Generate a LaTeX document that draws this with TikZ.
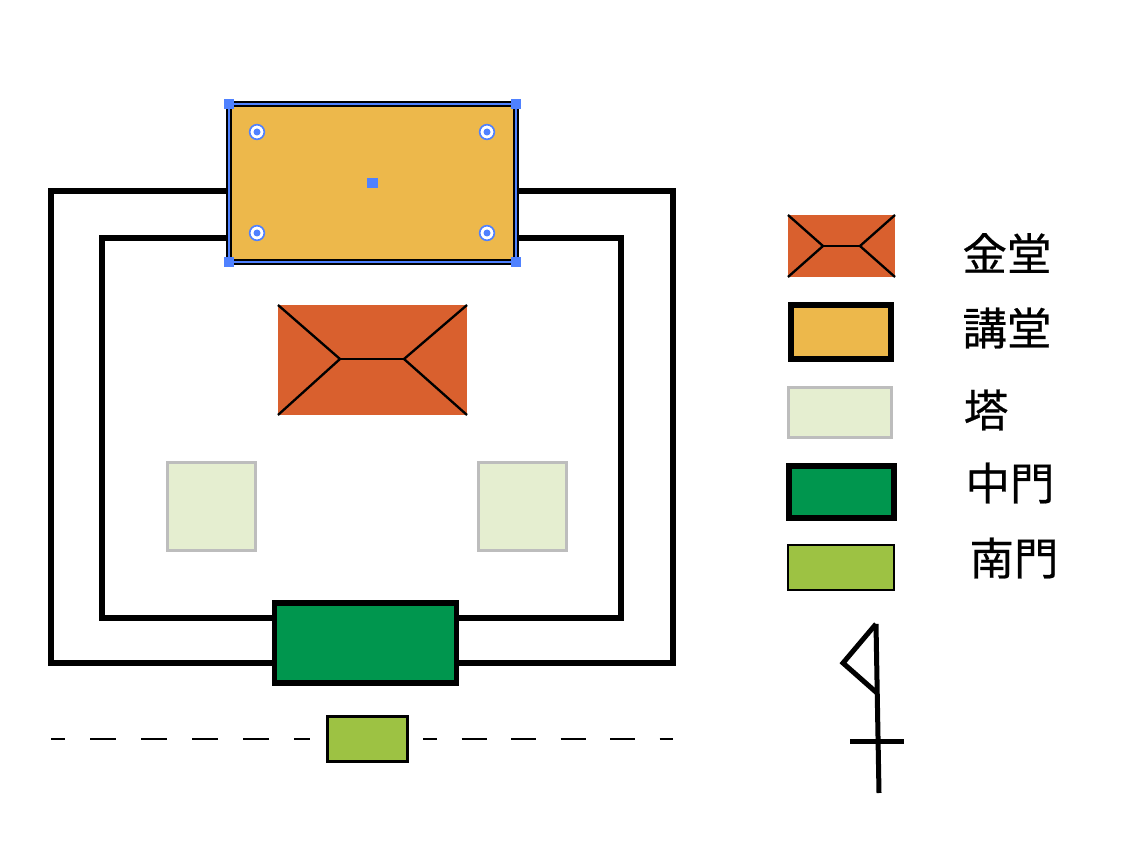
\documentclass[tikz,border=0pt]{standalone}
\usepackage{fontspec}
\newfontfamily\cjk[FakeBold=0.5]{Noto Sans CJK JP}
\usepackage{tikz}
\begin{document}
\begin{tikzpicture}[x=0.3mm,y=-0.3mm,
  block/.style 2 args={rectangle,draw,inner sep=0pt,outer sep=0pt,minimum width=#1*0.3mm,minimum height=#2*0.3mm},
  kondo/.style={fill=kondocol,draw=none},
  kodo/.style={fill=kodocol,line width=1.7mm},
  tower/.style={fill=towercol,draw=towerline,line width=0.9mm},
  chumon/.style={fill=chumoncol,line width=1.6mm},
  nanmon/.style={fill=nanmoncol,line width=0.75mm},
  corridor/.style={line width=2mm,miter limit=10},
  hip/.style={line width=0.7mm},
  compass/.style={line width=1.5mm,line cap=butt,line join=miter},
  handle/.style={rectangle,fill=handlecol,inner sep=0pt,minimum size=3.2mm},
  ring/.style={circle,fill=white,draw=handlecol,line width=0.5mm,inner sep=0pt,minimum size=4.4mm},
  label/.style={font=\cjk\fontsize{38pt}{38pt}\selectfont,inner sep=0pt,anchor=center}]
\definecolor{kondocol}{HTML}{D9602E}
\definecolor{kodocol}{HTML}{EDB84B}
\definecolor{towercol}{HTML}{E5EED0}
\definecolor{towerline}{HTML}{BDBDBD}
\definecolor{chumoncol}{HTML}{00964E}
\definecolor{nanmoncol}{HTML}{9DC243}
\definecolor{handlecol}{HTML}{4F81FF}
\useasboundingbox (0,0) rectangle (1132,858);

% buildings
\node [block={287}{158},kodo] (hall) at (372.5,183) {};
\node [block={189}{110},kondo] (gold) at (372.5,360) {};
\node [block={88}{88},tower] (towerL) at (211,506.5) {};
\node [block={88}{88},tower] (towerR) at (522,506.5) {};
\node [block={182}{80},chumon] (inner) at (365.5,643) {};
\node [block={80}{45},nanmon] (south) at (367.5,739) {};

% corridors
\coordinate (outerNW) at (51,191);
\coordinate (outerNE) at (673,191);
\coordinate (outerSW) at (51,663);
\coordinate (outerSE) at (673,663);
\coordinate (innerNW) at (102,238);
\coordinate (innerNE) at (621,238);
\coordinate (innerSW) at (102,618);
\coordinate (innerSE) at (621,618);
\draw [corridor] (hall.west |- outerNW) -- (outerNW) -- (outerSW) -- (inner.west |- outerSW);
\draw [corridor] (hall.east |- outerNE) -- (outerNE) -- (outerSE) -- (inner.east |- outerSE);
\draw [corridor] (hall.west |- innerNW) -- (innerNW) -- (innerSW) -- (inner.west |- innerSW);
\draw [corridor] (hall.east |- innerNE) -- (innerNE) -- (innerSE) -- (inner.east |- innerSE);

% roof lines
\coordinate (ridgeL) at (340,359);
\coordinate (ridgeR) at (404,359);
\draw [hip] (gold.north west) -- (ridgeL) -- (gold.south west);
\draw [hip] (gold.north east) -- (ridgeR) -- (gold.south east);
\draw [hip] (ridgeL) -- (ridgeR);

% south line
\coordinate (wallA) at (51,739);
\coordinate (wallB) at (310,739);
\coordinate (wallC) at (423,739);
\coordinate (wallD) at (673,739);
\draw [line width=0.75mm,dash pattern=on 7.8mm off 7.5mm,dash phase=3.6mm] (wallA) -- (wallB);
\draw [line width=0.75mm,dash pattern=on 7.5mm off 7.35mm,dash phase=3.3mm] (wallC) -- (wallD);

% selection marks
\draw [handlecol,line width=0.6mm] (hall.north west) rectangle (hall.south east);
\node [handle] (hNW) at (hall.north west) {};
\node [handle] (hNE) at (hall.north east) {};
\node [handle] (hSW) at (hall.south west) {};
\node [handle] (hSE) at (hall.south east) {};
\node [handle] (hC) at (hall.center) {};
\foreach \n/\px/\py in {a/257/132,b/487/132,c/257/233,d/487/233}{
  \node [ring] (ring\n) at (\px,\py) {};
  \node [circle,fill=handlecol,inner sep=0pt,minimum size=2.1mm] (dot\n) at (\px,\py) {};
}

% legend
\node [block={107}{62},kondo] (keyGold) at (841.5,246) {};
\coordinate (keyL) at (823,246);
\coordinate (keyR) at (860,246);
\draw [hip] (keyGold.north west) -- (keyL) -- (keyGold.south west);
\draw [hip] (keyGold.north east) -- (keyR) -- (keyGold.south east);
\draw [hip] (keyL) -- (keyR);
\node [block={100}{54},kodo] (keyHall) at (841,332) {};
\node [block={103}{50},tower] (keyTower) at (839.5,412) {};
\node [block={105}{52},chumon,line width=1.8mm] (keyInner) at (841.5,492) {};
\node [block={106}{45},nanmon,line width=0.6mm] (keySouth) at (841,567) {};

\node [label] (tGold) at (1007,253) {金堂};
\node [label] (tHall) at (1007,328) {講堂};
\node [label] (tTower) at (986,410) {塔};
\node [label] (tInner) at (1010,483) {中門};
\node [label] (tSouth) at (1014,558) {南門};

% north mark
\coordinate (poleTop) at (876,624);
\coordinate (poleEnd) at (879,793);
\coordinate (flagTip) at (843,663);
\coordinate (flagEnd) at (877,693);
\coordinate (barL) at (850,741);
\coordinate (barR) at (904,741);
\draw [compass] (poleTop) -- (poleEnd);
\draw [compass] (poleTop) -- (flagTip) -- (flagEnd);
\draw [compass] (barL) -- (barR);
\end{tikzpicture}
\end{document}
